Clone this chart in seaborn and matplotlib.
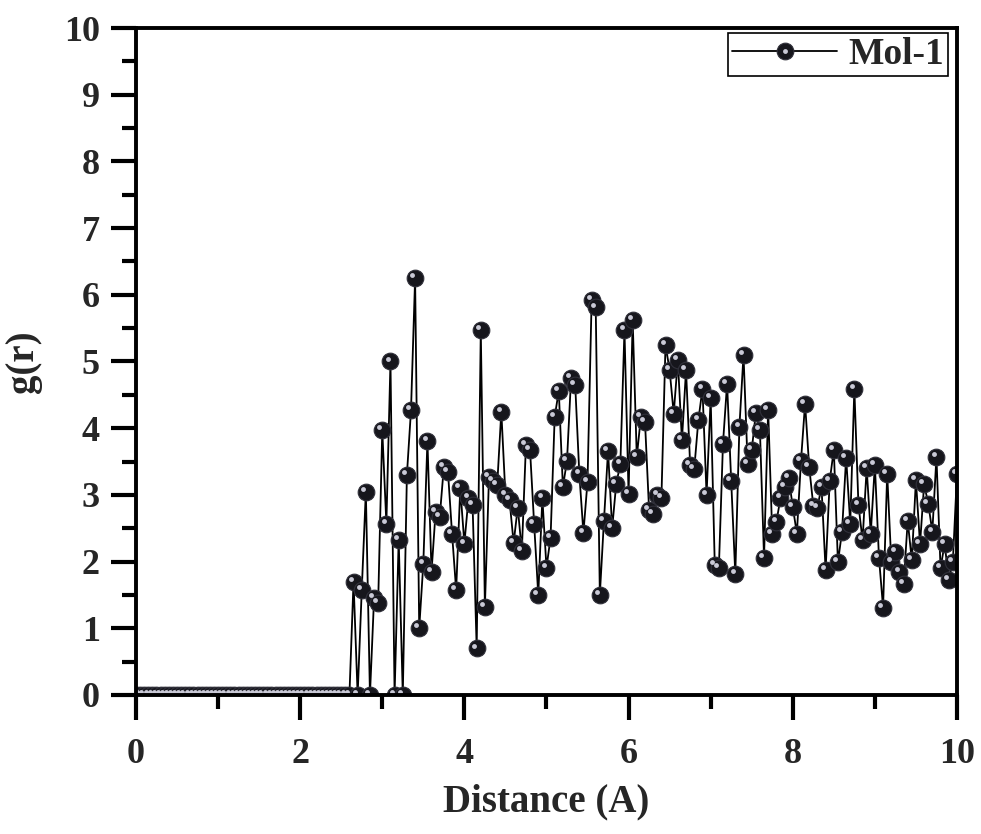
import matplotlib
matplotlib.use("Agg")
import matplotlib.pyplot as plt
import matplotlib.transforms as mtransforms
import numpy as np
import pandas as pd
import seaborn as sns
from matplotlib.legend_handler import HandlerTuple
from matplotlib.lines import Line2D
from matplotlib.ticker import MultipleLocator

# RDF of Mol-1, bins of 0.05 A from 0 to 10
step = 0.05
g_zero = [0.0] * 53  # 0.00 .. 2.60 -> empty
g_peaks = [
    1.70, 0.00, 1.57, 3.05, 0.00, 1.45, 1.38, 3.97, 2.57, 5.00,
    0.00, 2.33, 0.00, 3.30, 4.27, 6.25, 1.00, 1.97, 3.81, 1.85,
    2.75, 2.67, 3.42, 3.35, 2.42, 1.57, 3.10, 2.27, 2.95, 2.85,
    0.70, 5.47, 1.32, 3.27, 3.21, 3.15, 4.25, 3.00, 2.92, 2.28,
    2.81, 2.16, 3.75, 3.67, 2.56, 1.50, 2.95, 1.91, 2.36, 4.17,
    4.56, 3.12, 3.51, 4.76, 4.65, 3.32, 2.43, 3.20, 5.92, 5.81,
    1.50, 2.61, 3.66, 2.50, 3.17, 3.46, 5.47, 3.02, 5.62, 3.57,
    4.17, 4.10, 2.77, 2.72, 3.00, 2.95, 5.25, 4.87, 4.22, 5.02,
    3.82, 4.87, 3.45, 3.39, 4.12, 4.59, 3.00, 4.45, 1.95, 1.91,
    3.77, 4.67, 3.21, 1.81, 4.02, 5.10, 3.47, 3.67, 4.23, 3.97,
    2.06, 4.28, 2.41, 2.59, 2.95, 3.12, 3.26, 2.82, 2.42, 3.51,
    4.37, 3.42, 2.84, 2.81, 3.12, 1.87, 3.21, 3.68, 1.99, 2.45,
    3.56, 2.57, 4.59, 2.85, 2.32, 3.40, 2.42, 3.45, 2.06, 1.31,
    3.32, 2.00, 2.15, 1.84, 1.66, 2.61, 2.02, 3.22, 2.26, 3.16,
    2.87, 2.45, 3.57, 1.90, 2.27, 1.72, 2.00, 3.31,
]
g_r = g_zero + g_peaks
distance = np.round(np.arange(len(g_r)) * step, 2)
label = "Mol-1"

df = pd.DataFrame({"distance": distance, "g": g_r})

sns.set_style("ticks")
plt.rcParams["font.family"] = ["Liberation Serif", "DejaVu Serif"]
plt.rcParams["font.weight"] = "bold"

fig = plt.figure(figsize=(9.81, 8.34), dpi=100)
ax = fig.add_axes([0.1386, 0.1667, 0.8369, 0.7997])

sns.lineplot(data=df, x="distance", y="g", ax=ax, estimator=None,
             color="black", linewidth=1.3, marker="o", markersize=12,
             markerfacecolor="#16161c", markeredgecolor="#30303a",
             markeredgewidth=0.8, label=label)
line = ax.get_lines()[0]

# little highlight on each ball
shine = mtransforms.offset_copy(ax.transData, fig=fig, x=-2.0, y=2.0, units="points")
ax.plot(df["distance"], df["g"], linestyle="none", marker="o", markersize=3.5,
        color="#c9c9d6", markeredgewidth=0, transform=shine)

ax.set_xlim(0, 10)
ax.set_ylim(0, 10)
ax.xaxis.set_major_locator(MultipleLocator(2))
ax.xaxis.set_minor_locator(MultipleLocator(1))
ax.yaxis.set_major_locator(MultipleLocator(1))
ax.yaxis.set_minor_locator(MultipleLocator(0.5))
ax.tick_params(which="major", direction="out", length=18, width=3, labelsize=26, color="black")
ax.tick_params(which="minor", direction="out", length=10, width=3, color="black")
ax.tick_params(axis="x", which="major", pad=13)
ax.tick_params(axis="y", which="major", pad=8)
for s in ax.spines.values():
    s.set_linewidth(2.8)
    s.set_color("black")
    s.set_visible(True)

ax.set_xlabel("Distance (A)", fontsize=28, fontweight="bold", labelpad=9)
ax.set_ylabel("g(r)", fontsize=28, fontweight="bold", labelpad=16)

hl = Line2D([], [], linestyle="none", marker="o", markersize=3.5,
            color="#c9c9d6", markeredgewidth=0)
leg = ax.legend(handles=[(line, hl)], labels=[label],
                handler_map={tuple: HandlerTuple(ndivide=1)},
                loc="upper right", bbox_to_anchor=(0.989, 0.9925), borderaxespad=0,
                fancybox=False, framealpha=1, edgecolor="black", handlelength=2.8,
                handletextpad=0.3, borderpad=0.1, prop={"size": 27, "weight": "bold"})
leg.get_frame().set_linewidth(1.2)

fig.savefig("out.png", dpi=100)
